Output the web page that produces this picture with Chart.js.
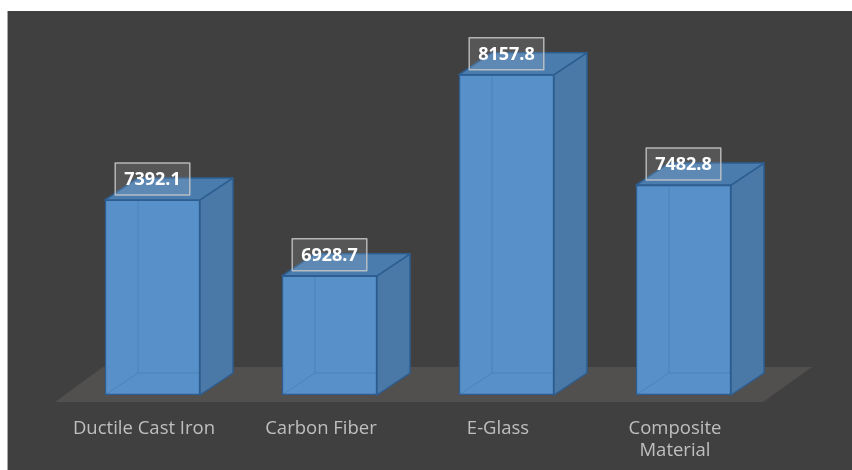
<!DOCTYPE html>
<html>
<head>
<meta charset="utf-8">
<script src="https://cdn.jsdelivr.net/npm/chart.js@4.4.1/dist/chart.umd.min.js"></script>
<style>
  html, body { margin: 0; padding: 0; background: #ffffff; }
  #wrap { width: 852px; height: 470px; position: relative; }
</style>
</head>
<body>
<div id="wrap"><canvas id="c" width="852" height="470"></canvas></div>
<script>
// Materials compared and their values
const categories = ['Ductile Cast Iron', 'Carbon Fiber', 'E-Glass', 'Composite Material'];
const tickLabels = ['Ductile Cast Iron', 'Carbon Fiber', 'E-Glass', ['Composite', 'Material']];
const values = [7392.1, 6928.7, 8157.8, 7482.8];
const axisMin = 6200;
const axisMax = 8400;

// 3D box depth (pixels)
const DX = 33, DY = 22;

const COLORS = {
  page: '#ffffff',
  panel: '#404040',
  panelEdge: '#a8a8a8',
  floor: '#524f4f',
  front: '#5891c9',
  side: '#4a78a7',
  top: '#4a7cae',
  edge: '#2d5e91',
  hidden: 'rgba(45, 94, 145, 0.3)',
  tick: '#bfbfbf'
};

const scenePlugin = {
  id: 'scene',
  beforeDraw(chart) {
    const { ctx, chartArea: a } = chart;
    ctx.save();
    ctx.fillStyle = COLORS.page;
    ctx.fillRect(0, 0, chart.width, chart.height);
    ctx.fillStyle = COLORS.panel;
    ctx.fillRect(8, 11, chart.width - 8, chart.height - 11);
    ctx.fillStyle = COLORS.panelEdge;
    ctx.fillRect(7, 11, 1, chart.height - 11);
    // floor plane under the bars
    ctx.fillStyle = COLORS.floor;
    ctx.beginPath();
    ctx.moveTo(a.left - 9, a.bottom + 7);
    ctx.lineTo(a.right - 9, a.bottom + 7);
    ctx.lineTo(a.right + 40, a.bottom - 28);
    ctx.lineTo(a.left + 39, a.bottom - 28);
    ctx.closePath();
    ctx.fill();
    ctx.restore();
  },
  afterDatasetsDraw(chart) {
    const { ctx } = chart;
    const meta = chart.getDatasetMeta(0);
    ctx.save();
    meta.data.forEach((bar) => {
      const { x, y, base, width } = bar.getProps(['x', 'y', 'base', 'width'], true);
      const x0 = x - width / 2, x1 = x + width / 2;
      ctx.lineJoin = 'round';

      // hidden back edges seen through the translucent box
      ctx.strokeStyle = COLORS.hidden;
      ctx.lineWidth = 1;
      ctx.beginPath();
      ctx.moveTo(x0, base);
      ctx.lineTo(x0 + DX, base - DY);
      ctx.lineTo(x1 + DX, base - DY);
      ctx.moveTo(x0 + DX, base - DY);
      ctx.lineTo(x0 + DX, y - DY);
      ctx.stroke();

      ctx.strokeStyle = COLORS.edge;
      ctx.lineWidth = 1.5;
      // side face
      ctx.fillStyle = COLORS.side;
      ctx.beginPath();
      ctx.moveTo(x1, y);
      ctx.lineTo(x1 + DX, y - DY);
      ctx.lineTo(x1 + DX, base - DY);
      ctx.lineTo(x1, base);
      ctx.closePath();
      ctx.fill();
      ctx.stroke();
      // top face
      ctx.fillStyle = COLORS.top;
      ctx.beginPath();
      ctx.moveTo(x0, y);
      ctx.lineTo(x0 + DX, y - DY);
      ctx.lineTo(x1 + DX, y - DY);
      ctx.lineTo(x1, y);
      ctx.closePath();
      ctx.fill();
      ctx.stroke();
    });

    // value labels in boxes above each bar
    ctx.font = 'bold 18px "Open Sans", "DejaVu Sans", sans-serif';
    ctx.textAlign = 'center';
    ctx.textBaseline = 'middle';
    meta.data.forEach((bar, i) => {
      const { x, y } = bar.getProps(['x', 'y'], true);
      const text = values[i].toFixed(1);
      const w = ctx.measureText(text).width + 18;
      const h = 32;
      const cy = y - 21;
      ctx.fillStyle = 'rgba(220, 220, 220, 0.14)';
      ctx.fillRect(x - w / 2, cy - h / 2, w, h);
      ctx.strokeStyle = 'rgba(200, 200, 200, 0.85)';
      ctx.lineWidth = 1.5;
      ctx.strokeRect(x - w / 2, cy - h / 2, w, h);
      ctx.fillStyle = '#ffffff';
      ctx.fillText(text, x, cy + 1);
    });
    ctx.restore();
  }
};

new Chart(document.getElementById('c'), {
  type: 'bar',
  data: {
    labels: tickLabels,
    datasets: [{
      label: 'Value',
      data: values,
      base: axisMin,
      backgroundColor: COLORS.front,
      borderColor: COLORS.edge,
      borderWidth: 1.5,
      borderSkipped: false,
      barThickness: 95
    }]
  },
  options: {
    responsive: false,
    animation: false,
    devicePixelRatio: 1,
    layout: { padding: { top: 35, left: 64, right: 80, bottom: 0 } },
    plugins: {
      legend: { display: false },
      tooltip: { enabled: false },
      title: { display: false }
    },
    scales: {
      x: {
        offset: true,
        grid: { display: false, drawTicks: false },
        border: { display: false },
        ticks: {
          color: COLORS.tick,
          font: { family: '"Open Sans", "DejaVu Sans", sans-serif', size: 18.5, lineHeight: 1.22 },
          padding: 22,
          labelOffset: -8.5,
          maxRotation: 0,
          autoSkip: false
        },
        afterFit(scale) { scale.height = 75; }
      },
      y: {
        display: false,
        min: axisMin,
        max: axisMax
      }
    }
  },
  plugins: [scenePlugin]
});
</script>
</body>
</html>
